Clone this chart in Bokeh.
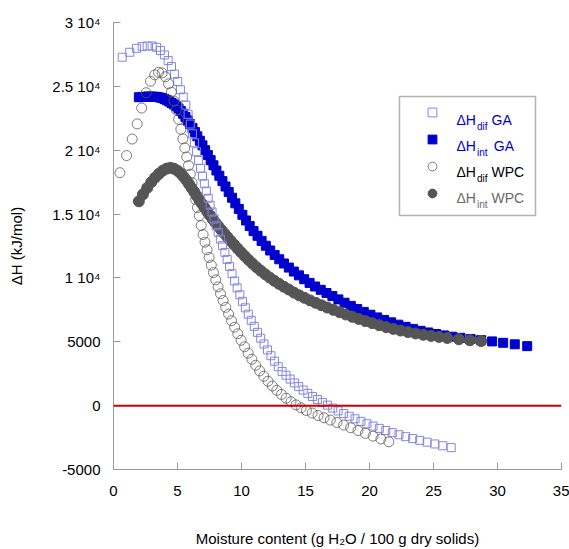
from bokeh.plotting import figure
from bokeh.models import Range1d, FixedTicker, Span, BoxAnnotation, Label, Legend, LegendItem
from bokeh.embed import file_html
from bokeh.resources import INLINE

# ---------------- data ----------------
ga_dif_x = [0.68, 1.27, 1.80, 2.24, 2.63, 3.02, 3.36, 3.67, 3.98, 4.27,
            4.53, 4.77, 5.02, 5.23, 5.45, 5.65, 5.83, 6.0, 6.17, 6.33,
            6.49, 6.65, 6.8, 6.95, 7.1, 7.25, 7.4, 7.55, 7.7, 7.86,
            8.02, 8.18, 8.35, 8.52, 8.7, 8.88, 9.07, 9.26, 9.46, 9.66,
            9.87, 10.08, 10.3, 10.53, 10.76, 11.0, 11.25, 11.5, 11.76, 12.03,
            12.3, 12.58, 12.87, 13.17, 13.48, 13.8, 14.13, 14.47, 14.82, 15.18,
            15.55, 15.93, 16.32, 16.72, 17.13, 17.55, 17.98, 18.42, 18.87, 19.33,
            19.8, 20.28, 20.77, 21.27, 21.78, 22.3, 22.83, 23.37, 23.92, 24.5,
            25.1, 25.72, 26.38]
ga_dif_y = [27280, 27670, 27980, 28110, 28160, 28160, 28060, 27800, 27460, 27020,
            26550, 25950, 25380, 24730, 24160, 23530, 22810, 22050, 21290, 20580,
            19880, 19200, 18580, 17970, 17380, 16800, 16240, 15690, 15160, 14610,
            14080, 13570, 13040, 12530, 12000, 11450, 10900, 10330, 9760, 9220,
            8680, 8170, 7660, 7160, 6680, 6210, 5740, 5280, 4830, 4360,
            3910, 3480, 3050, 2680, 2380, 2080, 1780, 1490, 1220, 960,
            710, 480, 250, 40, -190, -410, -620, -830, -1030, -1230,
            -1420, -1600, -1780, -1950, -2120, -2280, -2430, -2580, -2720, -2860,
            -3000, -3140, -3290]

ga_int_x = [1.98, 2.25, 2.5, 2.74, 2.97, 3.19, 3.4, 3.6, 3.8, 3.99,
            4.18, 4.36, 4.54, 4.72, 4.9, 5.08, 5.26, 5.44, 5.62, 5.8,
            5.98, 6.17, 6.36, 6.55, 6.75, 6.95, 7.16, 7.37, 7.59, 7.81,
            8.04, 8.27, 8.51, 8.75, 9.0, 9.26, 9.52, 9.79, 10.07, 10.35,
            10.64, 10.94, 11.25, 11.57, 11.9, 12.24, 12.59, 12.95, 13.32, 13.7,
            14.09, 14.49, 14.9, 15.32, 15.75, 16.19, 16.64, 17.1, 17.57, 18.05,
            18.54, 19.04, 19.55, 20.07, 20.6, 21.14, 21.69, 22.25, 22.82, 23.4,
            23.99, 24.59, 25.2, 25.82, 26.45, 27.1, 27.9, 28.72, 29.58, 30.44,
            31.35, 32.32]
ga_int_y = [24150, 24170, 24190, 24200, 24200, 24190, 24170, 24130, 24080, 24000,
            23910, 23810, 23700, 23580, 23440, 23270, 23070, 22850, 22600, 22330,
            22050, 21740, 21420, 21090, 20740, 20380, 20000, 19620, 19220, 18820,
            18410, 18000, 17580, 17160, 16730, 16280, 15840, 15400, 14940, 14500,
            14060, 13670, 13300, 12900, 12520, 12150, 11800, 11460, 11130, 10810,
            10500, 10200, 9900, 9610, 9330, 9070, 8820, 8580, 8320, 8060,
            7810, 7570, 7340, 7120, 6910, 6710, 6520, 6340, 6170, 6010,
            5860, 5730, 5610, 5500, 5400, 5310, 5220, 5130, 5030, 4920,
            4800, 4660]

wpc_dif_x = [0.5, 1.02, 1.46, 1.85, 2.2, 2.55, 2.89, 3.22, 3.52, 3.8,
             4.06, 4.3, 4.52, 4.72, 4.91, 5.09, 5.26, 5.42, 5.57, 5.72,
             5.86, 6.0, 6.14, 6.28, 6.42, 6.56, 6.7, 6.85, 7.0, 7.15,
             7.31, 7.47, 7.64, 7.81, 7.99, 8.17, 8.36, 8.56, 8.77, 8.99,
             9.22, 9.46, 9.71, 9.97, 10.24, 10.52, 10.81, 11.11, 11.42, 11.74,
             12.07, 12.41, 12.76, 13.12, 13.49, 13.87, 14.26, 14.66, 15.07, 15.52,
             15.98, 16.45, 16.94, 17.45, 17.98, 18.53, 19.1, 19.68, 20.28, 20.89,
             21.51]
wpc_dif_y = [18240, 19580, 20875, 22060, 23300, 24500, 25400, 25900, 26100, 26050,
             25750, 25200, 24550, 23850, 23150, 22420, 21640, 20890, 20180, 19470,
             18800, 18120, 17450, 16790, 16140, 15500, 14870, 14100, 13400, 12800,
             12200, 11600, 11000, 10420, 9850, 9300, 8760, 8230, 7700, 7170,
             6650, 6140, 5630, 5120, 4610, 4110, 3630, 3160, 2720, 2300,
             1910, 1540, 1200, 880, 580, 310, 60, -170, -380, -580,
             -770, -950, -1130, -1320, -1520, -1730, -1950, -2170, -2390, -2610,
             -2830]

wpc_int_x = [1.98, 2.3, 2.63, 2.95, 3.25, 3.55, 3.85, 4.15, 4.45, 4.73,
             5.0, 5.25, 5.48, 5.7, 5.9, 6.1, 6.3, 6.5, 6.7, 6.9,
             7.1, 7.31, 7.52, 7.74, 7.96, 8.19, 8.42, 8.66, 8.9, 9.15,
             9.41, 9.68, 9.96, 10.25, 10.55, 10.86, 11.18, 11.51, 11.85, 12.2,
             12.56, 12.93, 13.31, 13.7, 14.1, 14.51, 14.93, 15.36, 15.8, 16.25,
             16.71, 17.18, 17.66, 18.15, 18.65, 19.16, 19.68, 20.21, 20.75, 21.3,
             21.86, 22.43, 23.01, 23.6, 24.2, 24.81, 25.43, 26.07, 26.98, 27.84,
             28.72]
wpc_int_y = [16000, 16550, 17050, 17500, 17850, 18150, 18400, 18560, 18620, 18550,
             18400, 18180, 17920, 17640, 17350, 17050, 16740, 16430, 16120, 15820,
             15520, 15220, 14920, 14620, 14330, 14040, 13760, 13480, 13200, 12910,
             12620, 12320, 12020, 11720, 11420, 11120, 10830, 10560, 10290, 10030,
             9780, 9540, 9310, 9090, 8850, 8640, 8440, 8240, 8050, 7860,
             7680, 7500, 7320, 7140, 6960, 6790, 6620, 6460, 6300, 6150,
             6010, 5880, 5760, 5650, 5550, 5460, 5380, 5300, 5200, 5120,
             5060]

x_ticks = [0, 5, 10, 15, 20, 25, 30, 35]
y_ticks = [-5000, 0, 5000, 10000, 15000, 20000, 25000, 30000]
y_tick_labels = ["-5000", "0", "5000", "1 10\u2074", "1.5 10\u2074", "2 10\u2074", "2.5 10\u2074", "3 10\u2074"]
zero_level = 0

legend_main = ["\u0394H", "\u0394H", "\u0394H", "\u0394H"]
legend_subs = ["dif", "int", "dif", "int"]
legend_names = ["GA", "GA", "WPC", "WPC"]
x_label = "Moisture content (g H\u2082O / 100 g dry solids)"
y_label = "\u0394H (kJ/mol)"

# ---------------- styling ----------------
FONT = "Liberation Sans"
C_GA_DIF = "#8585e0"
C_GA_INT = "#0000cc"
C_WPC_DIF = "#5a5a5a"
C_WPC_INT = "#555555"
text_colors = [C_GA_INT, C_GA_INT, "#000000", "#6a6a6a"]

p = figure(width=569, height=549, output_backend="svg", toolbar_location=None,
           x_range=Range1d(0, 35), y_range=Range1d(-5000, 30000),
           min_border_left=113, min_border_right=8, min_border_top=22, min_border_bottom=79)
p.outline_line_color = None
p.xgrid.visible = False
p.ygrid.visible = False
p.background_fill_color = "white"
p.border_fill_color = "white"

r_ga_int = p.scatter(ga_int_x, ga_int_y, marker="square", size=9,
                     fill_color=C_GA_INT, line_color=C_GA_INT)
r_wpc_int = p.scatter(wpc_int_x, wpc_int_y, marker="circle", size=11,
                      fill_color=C_WPC_INT, line_color=C_WPC_INT)
r_ga_dif = p.scatter(ga_dif_x, ga_dif_y, marker="square", size=8,
                     fill_color=None, line_color=C_GA_DIF, line_width=1)
r_wpc_dif = p.scatter(wpc_dif_x, wpc_dif_y, marker="circle", size=10,
                      fill_color=None, line_color=C_WPC_DIF, line_width=0.8)

p.add_layout(Span(location=zero_level, dimension="width", line_color="#cc0000", line_width=2))

p.xaxis.ticker = FixedTicker(ticks=x_ticks)
p.yaxis.ticker = FixedTicker(ticks=y_ticks)
p.yaxis.major_label_overrides = dict(zip(y_ticks, y_tick_labels))
p.xaxis.axis_label = x_label
p.yaxis.axis_label = y_label
for ax in (p.xaxis[0], p.yaxis[0]):
    ax.axis_line_color = "#9a9a9a"
    ax.major_tick_line_color = "#9a9a9a"
    ax.minor_tick_line_color = None
    ax.major_tick_in = 7
    ax.major_tick_out = 0
    ax.major_label_text_font = FONT
    ax.major_label_text_font_size = "15px"
    ax.major_label_text_color = "black"
    ax.axis_label_text_font = FONT
    ax.axis_label_text_font_size = "15px"
    ax.axis_label_text_font_style = "normal"
    ax.axis_label_text_color = "black"
p.xaxis.major_label_standoff = 16
p.yaxis.major_label_standoff = 13
p.xaxis.axis_label_standoff = 31
p.yaxis.axis_label_standoff = 24

# legend frame
p.add_layout(BoxAnnotation(left=286, right=422, top=373, bottom=254,
                           left_units="screen", right_units="screen",
                           top_units="screen", bottom_units="screen",
                           fill_color="white", fill_alpha=1.0,
                           line_color="black", line_width=1.5))

legend = Legend(items=[LegendItem(label=" ", renderers=[r]) for r in (r_ga_dif, r_ga_int, r_wpc_dif, r_wpc_int)],
                location=(307.7, 264.7), orientation="vertical",
                glyph_width=22, glyph_height=22, label_height=22, label_width=0,
                label_standoff=0, spacing=5, padding=0, margin=0,
                border_line_alpha=0, background_fill_alpha=0)
p.add_layout(legend)

name_x = [378, 380.3, 378, 378]
for i in range(4):
    base = 350 - i * 26.1
    p.add_layout(Label(x=343, y=base, x_units="screen", y_units="screen", text=legend_main[i],
                       text_font=FONT, text_font_size="14px", text_color=text_colors[i],
                       text_baseline="alphabetic"))
    p.add_layout(Label(x=363.5, y=base - 6.5, x_units="screen", y_units="screen", text=legend_subs[i],
                       text_font=FONT, text_font_size="10px", text_color=text_colors[i],
                       text_baseline="alphabetic"))
    p.add_layout(Label(x=name_x[i], y=base, x_units="screen", y_units="screen", text=legend_names[i],
                       text_font=FONT, text_font_size="14px", text_color=text_colors[i],
                       text_baseline="alphabetic"))

open("out.html", "w").write(file_html(p, INLINE))
